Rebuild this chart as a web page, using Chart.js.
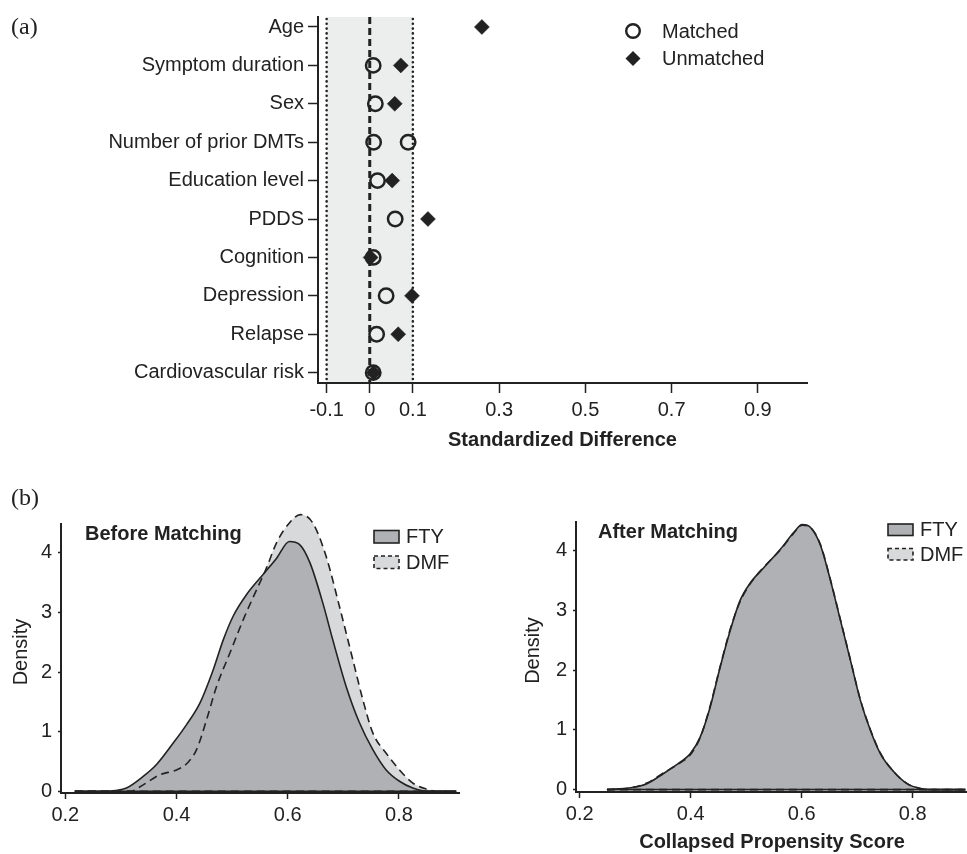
<!DOCTYPE html>
<html><head><meta charset="utf-8">
<script src="https://cdn.jsdelivr.net/npm/chart.js@4.4.1/dist/chart.umd.min.js"></script>
<style>
html,body{margin:0;padding:0;background:#fff;}
#wrap{position:relative;width:967px;height:854px;overflow:hidden;background:#fff;}
canvas{position:absolute;}
.lbl{position:absolute;font-family:"Liberation Serif","Times New Roman",serif;font-size:24px;color:#222;line-height:1;}
</style></head><body>
<div id="wrap">
<canvas id="ca" width="967" height="470" style="left:0;top:0;width:967px;height:470px"></canvas>
<canvas id="cb1" width="480" height="374" style="left:0;top:480px;width:480px;height:374px"></canvas>
<canvas id="cb2" width="487" height="374" style="left:480px;top:480px;width:487px;height:374px"></canvas>
<div class="lbl" style="left:11px;top:14px">(a)</div>
<div class="lbl" style="left:11px;top:485px">(b)</div>
</div>
<script>
// ---------- data ----------
const categories = ['Age','Symptom duration','Sex','Number of prior DMTs','Education level','PDDS','Cognition','Depression','Relapse','Cardiovascular risk'];
const matchedDiff   = [null, 0.008, 0.013, 0.009, 0.018, 0.059, 0.008, 0.038, 0.016, 0.008];
const unmatchedDiff = [0.26, 0.072, 0.058, 0.089, 0.052, 0.135, 0.002, 0.098, 0.066, 0.009];
const diffTicks = [-0.1, 0, 0.1, 0.3, 0.5, 0.7, 0.9];

const beforeFTY_x = [0.217,0.262,0.29,0.31,0.34,0.364,0.394,0.418,0.442,0.466,0.484,0.502,0.526,0.556,0.58,0.603,0.621,0.64,0.663,0.681,0.705,0.729,0.753,0.777,0.801,0.825,0.855,0.903];
const beforeFTY_y = [0,0,0.015,0.056,0.25,0.45,0.81,1.12,1.48,2.04,2.54,2.94,3.30,3.64,3.91,4.19,4.14,3.83,3.16,2.54,1.76,1.15,0.70,0.36,0.17,0.056,0,0];
const beforeDMF_x = [0.217,0.316,0.34,0.37,0.4,0.42,0.436,0.454,0.472,0.496,0.52,0.544,0.562,0.58,0.603,0.623,0.645,0.669,0.693,0.717,0.735,0.753,0.777,0.801,0.825,0.849,0.873,0.903];
const beforeDMF_y = [0,0,0.11,0.28,0.36,0.48,0.70,1.20,1.76,2.32,2.88,3.38,3.75,4.17,4.50,4.64,4.50,3.94,3.10,2.21,1.54,0.98,0.64,0.36,0.14,0.04,0,0];
const afterFTY_x = [0.249,0.291,0.321,0.351,0.381,0.399,0.417,0.435,0.453,0.471,0.489,0.508,0.532,0.562,0.586,0.601,0.616,0.634,0.652,0.67,0.688,0.706,0.724,0.742,0.766,0.79,0.814,0.838,0.895];
const afterFTY_y = [0,0.03,0.10,0.27,0.46,0.60,0.88,1.38,2.05,2.66,3.17,3.47,3.72,4.03,4.31,4.44,4.39,4.09,3.50,2.83,2.16,1.49,0.99,0.60,0.30,0.10,0.017,0,0];
const afterDMF_x = afterFTY_x;
const afterDMF_y = [0,0.03,0.11,0.28,0.45,0.58,0.87,1.40,2.06,2.68,3.15,3.46,3.73,4.02,4.30,4.43,4.39,4.10,3.51,2.84,2.17,1.50,1.00,0.61,0.30,0.10,0.02,0,0];
const psTicks = [0.2, 0.4, 0.6, 0.8];
const densityTicks = [0, 1, 2, 3, 4];
const densityAxisTop = 4.5;
const seriesNames = ['FTY', 'DMF'];

// ---------- styles ----------
const ink = '#222';
const FONT = '"Liberation Sans", Arial, Helvetica, sans-serif';
const FTY_FILL = '#b0b1b4';
const DMF_FILL = '#d8d9da';
Chart.defaults.font.family = FONT;
Chart.defaults.color = ink;

function pts(xs, ys) { return xs.map((x, i) => ({x, y: ys[i]})).filter(p => p.x !== null && p.y !== null); }

// ---------- panel (a) ----------
const balancePlugin = {
  id: 'balanceBg',
  beforeDraw(chart) {
    const {ctx, chartArea: a, scales: {x}} = chart;
    const xl = x.getPixelForValue(-0.1), xr = x.getPixelForValue(0.1), x0 = x.getPixelForValue(0);
    ctx.save();
    ctx.fillStyle = '#eceeed';
    ctx.fillRect(xl, a.top, xr - xl, a.bottom - a.top);
    ctx.strokeStyle = ink;
    ctx.lineWidth = 2.6; ctx.lineCap = 'round'; ctx.setLineDash([0, 4.8]);
    [xl, xr].forEach(px => { ctx.beginPath(); ctx.moveTo(px, a.top + 2); ctx.lineTo(px, a.bottom); ctx.stroke(); });
    ctx.lineCap = 'butt'; ctx.lineWidth = 3; ctx.setLineDash([7, 4]);
    ctx.beginPath(); ctx.moveTo(x0, a.top); ctx.lineTo(x0, a.bottom); ctx.stroke();
    ctx.restore();
  },
  afterDraw(chart) {
    const ctx = chart.ctx;
    ctx.save();
    const cx = 633, y1 = 31, y2 = 58.5;
    ctx.strokeStyle = ink; ctx.lineWidth = 2.4;
    ctx.beginPath(); ctx.arc(cx, y1, 6.8, 0, Math.PI * 2); ctx.stroke();
    ctx.fillStyle = ink;
    ctx.beginPath(); ctx.moveTo(cx - 7.5, y2); ctx.lineTo(cx, y2 - 7.5); ctx.lineTo(cx + 7.5, y2); ctx.lineTo(cx, y2 + 7.5); ctx.closePath(); ctx.fill();
    ctx.font = '20px ' + FONT; ctx.textBaseline = 'middle'; ctx.textAlign = 'left';
    ctx.fillText('Matched', 662, y1 + 1);
    ctx.fillText('Unmatched', 662, y2 + 1);
    ctx.restore();
  }
};

new Chart(document.getElementById('ca'), {
  type: 'scatter',
  data: {
    datasets: [
      { label: 'Unmatched', data: pts(unmatchedDiff, categories.map((c, i) => i)),
        pointStyle: ctx => ctx.dataIndex === 3 ? 'circle' : 'rectRot',
        pointRadius: ctx => ctx.dataIndex === 3 ? 7.2 : 7.5,
        backgroundColor: ctx => ctx.dataIndex === 3 ? 'rgba(0,0,0,0)' : ink,
        borderColor: ink,
        borderWidth: ctx => ctx.dataIndex === 3 ? 2.5 : 0.5 },
      { label: 'Matched', data: pts(matchedDiff, categories.map((c, i) => i)),
        pointStyle: 'circle', pointRadius: 7.2, backgroundColor: 'rgba(0,0,0,0)', borderColor: ink, borderWidth: 2.5 }
    ]
  },
  options: {
    responsive: false, animation: false, events: [], devicePixelRatio: 1,
    layout: { padding: { left: 0, top: 17, right: 160, bottom: 0 } },
    plugins: { legend: { display: false }, tooltip: { enabled: false } },
    scales: {
      x: {
        type: 'linear', min: -0.12, max: 1.014,
        afterBuildTicks: s => { s.ticks = diffTicks.map(v => ({ value: v })); },
        afterFit: s => { s.height = 87; },
        ticks: { font: { size: 20 }, color: ink, padding: 5, autoSkip: false, maxRotation: 0, callback: v => String(v) },
        grid: { display: true, drawOnChartArea: false, drawTicks: true, tickLength: 10, tickColor: ink, tickWidth: 1.5 },
        border: { display: true, color: ink, width: 2 },
        title: { display: true, text: 'Standardized Difference', font: { size: 20, weight: 'bold' }, color: ink, padding: { top: 0, bottom: 18 } }
      },
      y: {
        type: 'linear', reverse: true, min: -0.26, max: 9.27,
        afterBuildTicks: s => { s.ticks = categories.map((c, i) => ({ value: i })); },
        afterFit: s => { s.width = 318; },
        ticks: { font: { size: 20 }, color: ink, padding: 4, autoSkip: false, callback: v => categories[Math.round(v)] },
        grid: { display: true, drawOnChartArea: false, drawTicks: true, tickLength: 10, tickColor: ink, tickWidth: 1.5 },
        border: { display: true, color: ink, width: 2 }
      }
    }
  },
  plugins: [balancePlugin]
});

// ---------- panel (b) ----------
function densityDecor(o) {
  return {
    id: 'densityDecor',
    afterDatasetsDraw(chart) {
      const {ctx, chartArea: a, scales: {x, y}} = chart;
      const y0 = y.getPixelForValue(0);
      ctx.save();
      for (let i = chart.data.datasets.length - 1; i >= 0; i--) {
        const ds = chart.data.datasets[i];
        const d = ds.data;
        ctx.strokeStyle = ds.borderColor; ctx.lineWidth = ds.borderWidth;
        ctx.setLineDash(ds.borderDash || []);
        ctx.beginPath();
        ctx.moveTo(x.getPixelForValue(d[0].x), y0);
        ctx.lineTo(x.getPixelForValue(d[d.length - 1].x), y0);
        ctx.stroke();
      }
      // y axis line, only up to the top of the value range
      ctx.setLineDash([]);
      ctx.strokeStyle = ink; ctx.lineWidth = 2;
      ctx.beginPath();
      ctx.moveTo(a.left - 1, y.getPixelForValue(densityAxisTop));
      ctx.lineTo(a.left - 1, a.bottom + 1);
      ctx.stroke();
      ctx.restore();
    },
    afterDraw(chart) {
      const ctx = chart.ctx;
      ctx.save();
      ctx.fillStyle = ink;
      ctx.font = 'bold 20px ' + FONT; ctx.textBaseline = 'middle'; ctx.textAlign = 'left';
      ctx.fillText(o.title, o.tx, o.ty);
      const boxes = [
        { name: seriesNames[0], fill: FTY_FILL, dash: [] },
        { name: seriesNames[1], fill: DMF_FILL, dash: [4, 3] }
      ];
      boxes.forEach((b, i) => {
        const by = o.ly + i * o.lgap;
        ctx.fillStyle = b.fill;
        ctx.fillRect(o.lx, by, 25, o.bh);
        ctx.setLineDash(b.dash); ctx.strokeStyle = ink; ctx.lineWidth = 1.6;
        ctx.strokeRect(o.lx, by, 25, o.bh);
        ctx.setLineDash([]);
        ctx.fillStyle = ink; ctx.font = '20px ' + FONT;
        ctx.fillText(b.name, o.lx + 32, by + o.bh / 2 + 1);
      });
      ctx.restore();
    }
  };
}

function densityChart(id, ftyX, ftyY, dmfX, dmfY, o) {
  return new Chart(document.getElementById(id), {
    type: 'line',
    data: {
      datasets: [
        { label: seriesNames[0], data: pts(ftyX, ftyY), borderColor: ink, borderWidth: 1.6, backgroundColor: FTY_FILL,
          fill: 'origin', pointRadius: 0, cubicInterpolationMode: 'monotone' },
        { label: seriesNames[1], data: pts(dmfX, dmfY), borderColor: ink, borderWidth: 1.6, borderDash: [8, 5], backgroundColor: DMF_FILL,
          fill: 'origin', pointRadius: 0, cubicInterpolationMode: 'monotone' }
      ]
    },
    options: {
      responsive: false, animation: false, events: [], devicePixelRatio: 1,
      layout: { padding: o.padding },
      plugins: { legend: { display: false }, tooltip: { enabled: false }, filler: { drawTime: 'beforeDatasetsDraw' } },
      scales: {
        x: {
          type: 'linear', min: o.xmin, max: o.xmax,
          afterBuildTicks: s => { s.ticks = psTicks.map(v => ({ value: v })); },
          afterFit: s => { s.height = o.xh; },
          ticks: { font: { size: 20 }, color: ink, padding: 4, autoSkip: false, maxRotation: 0, callback: v => v.toFixed(1) },
          grid: { display: true, drawOnChartArea: false, drawTicks: true, tickLength: 6, tickColor: ink, tickWidth: 1.5 },
          border: { display: true, color: ink, width: 2 },
          title: o.xtitle ? { display: true, text: o.xtitle, font: { size: 20, weight: 'bold' }, color: ink, padding: { top: 0, bottom: 0 } } : { display: false }
        },
        y: {
          type: 'linear', min: o.ymin, max: 4.7,
          afterBuildTicks: s => { s.ticks = densityTicks.map(v => ({ value: v })); },
          afterFit: s => { s.width = o.yw; },
          ticks: { font: { size: 20 }, color: ink, padding: 6, autoSkip: false, callback: v => String(v) },
          grid: { display: true, drawOnChartArea: false, drawTicks: true, tickLength: 4, tickColor: ink, tickWidth: 1.5 },
          border: { display: false },
          title: { display: true, text: 'Density', font: { size: 20 }, color: ink, padding: { top: o.ytp, bottom: 0 } }
        }
      }
    },
    plugins: [densityDecor(o)]
  });
}

// chart top moved up by 0.2 units (~12px) so the taller DMF peak is not clipped
densityChart('cb1', beforeFTY_x, beforeFTY_y, beforeDMF_x, beforeDMF_y, {
  padding: { left: 0, top: 31, right: 21, bottom: 0 }, xmin: 0.194, xmax: 0.908, ymin: -0.027,
  xh: 61, yw: 62, ytp: 9, xtitle: null,
  title: 'Before Matching', tx: 85, ty: 54, lx: 374, ly: 50.5, lgap: 25.5, bh: 12.5
});
densityChart('cb2', afterFTY_x, afterFTY_y, afterDMF_x, afterDMF_y, {
  padding: { left: 0, top: 29, right: 0, bottom: 0 }, xmin: 0.195, xmax: 0.898, ymin: -0.04,
  xh: 62, yw: 97, ytp: 41, xtitle: 'Collapsed Propensity Score',
  title: 'After Matching', tx: 118, ty: 52, lx: 408, ly: 44, lgap: 24.5, bh: 11.5
});
</script>
</body></html>
